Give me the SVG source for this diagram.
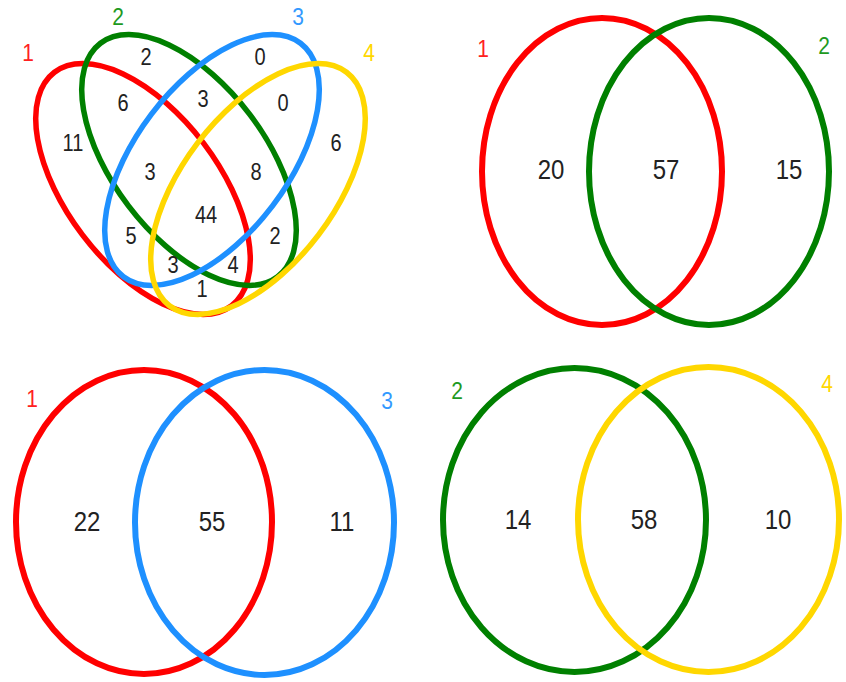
<svg xmlns="http://www.w3.org/2000/svg" width="846" height="682" viewBox="0 0 846 682">
<style>
.e{fill:none;stroke-width:6}
.q{fill:none;stroke-width:5.5}
.red{stroke:#FF0000}.grn{stroke:#008000}.blu{stroke:#1E90FF}.yel{stroke:#FFD700}
text{font-family:"Liberation Sans",Arial,sans-serif;text-anchor:middle;transform-box:fill-box;transform-origin:center;transform:scaleY(1.15)}
.n{font-size:24px;fill:#222}
.s{font-size:20px;fill:#222}
.l{font-size:21px}
.tr{fill:#FF2020}.tg{fill:#1E9A1E}.tb{fill:#3399FF}.ty{fill:#FFD700}
</style>
<rect width="846" height="682" fill="#fff"/>
<g id="venn4">
<g id="v4-sets">
<ellipse id="v4-set1" class="q red" cx="143" cy="189" rx="146.5" ry="76" transform="rotate(52.8 143 189)"/>
<ellipse id="v4-set2" class="q grn" cx="189" cy="160" rx="146.5" ry="76" transform="rotate(52.8 189 160)"/>
<ellipse id="v4-set3" class="q blu" cx="212" cy="160" rx="146.5" ry="76" transform="rotate(-52.8 212 160)"/>
<ellipse id="v4-set4" class="q yel" cx="258" cy="189" rx="146.5" ry="76" transform="rotate(-52.8 258 189)"/>
</g>
<g id="v4-labels">
<text class="l tr" x="28" y="60">1</text>
<text class="l tg" x="118" y="24">2</text>
<text class="l tb" x="298" y="24">3</text>
<text class="l ty" x="369" y="60">4</text>
</g>
<g id="v4-counts">
<text class="s" x="146" y="64">2</text>
<text class="s" x="260" y="64">0</text>
<text class="s" x="123" y="110">6</text>
<text class="s" x="203" y="106">3</text>
<text class="s" x="283" y="110">0</text>
<text class="s" x="73" y="150">11</text>
<text class="s" x="336" y="150">6</text>
<text class="s" x="150" y="179">3</text>
<text class="s" x="256" y="179">8</text>
<text class="s" x="206" y="222">44</text>
<text class="s" x="131" y="243">5</text>
<text class="s" x="275" y="243">2</text>
<text class="s" x="173" y="272">3</text>
<text class="s" x="233" y="272">4</text>
<text class="s" x="202" y="296">1</text>
</g>
</g>
<g id="venn12">
<ellipse id="v12-set1" class="e red" cx="602" cy="171.5" rx="120" ry="153.5"/>
<ellipse id="v12-set2" class="e grn" cx="709" cy="171.5" rx="120" ry="153.5"/>
<text class="l tr" x="483" y="56">1</text>
<text class="l tg" x="824" y="53">2</text>
<text class="n" x="551" y="178">20</text>
<text class="n" x="666" y="178">57</text>
<text class="n" x="789" y="178">15</text>
</g>
<g id="venn13">
<ellipse id="v13-set1" class="e red" cx="144" cy="522" rx="128" ry="152"/>
<ellipse id="v13-set3" class="e blu" cx="264.5" cy="522.5" rx="129.5" ry="152.5"/>
<text class="l tr" x="32" y="406">1</text>
<text class="l tb" x="387" y="408">3</text>
<text class="n" x="87" y="530">22</text>
<text class="n" x="212" y="530">55</text>
<text class="n" x="342" y="530">11</text>
</g>
<g id="venn24">
<ellipse id="v24-set2" class="e grn" cx="574.5" cy="520" rx="131.5" ry="152"/>
<ellipse id="v24-set4" class="e yel" cx="708.5" cy="519.5" rx="130.5" ry="152.5"/>
<text class="l tg" x="457" y="398">2</text>
<text class="l ty" x="827" y="391">4</text>
<text class="n" x="518" y="528">14</text>
<text class="n" x="644" y="528">58</text>
<text class="n" x="778" y="528">10</text>
</g>
<g id="connectors"/>
</svg>
